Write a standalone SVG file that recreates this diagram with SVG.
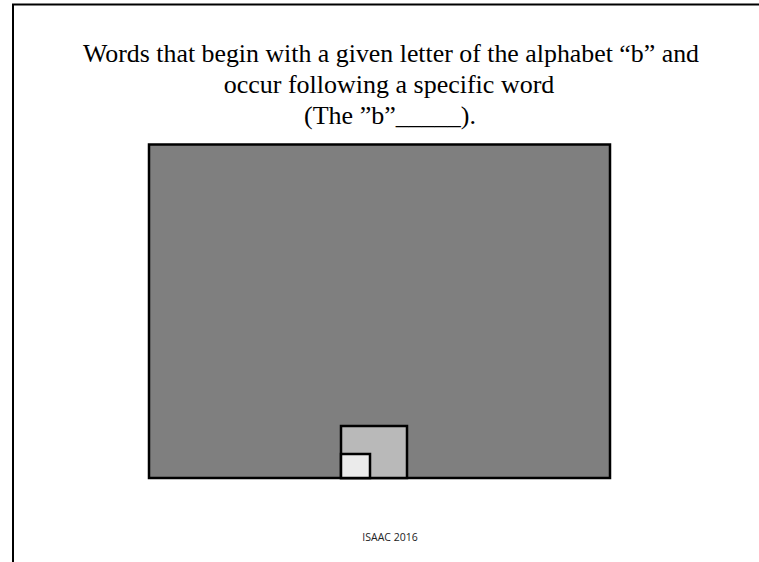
<svg xmlns="http://www.w3.org/2000/svg" width="759" height="562" viewBox="0 0 759 562">
<style>
.t{font-family:"Liberation Serif","Times New Roman",serif;font-size:26px;fill:#000;text-anchor:middle}
.f{font-family:"Open Sans","Liberation Sans",sans-serif;font-size:10.5px;fill:#222;text-anchor:middle}
.b{stroke:#000;stroke-width:2.5}
</style>
<rect x="0" y="0" width="759" height="562" fill="#fff"/>
<rect x="13" y="4.5" width="760" height="570" fill="none" stroke="#000" stroke-width="2"/>
<g id="title">
<text class="t" x="391" y="62" textLength="616" lengthAdjust="spacingAndGlyphs">Words that begin with a given letter of the alphabet “b” and</text>
<text class="t" x="389" y="93">occur following a specific word</text>
<text class="t" x="390" y="124">(The ”b”_____).</text>
</g>
<g id="outer"><rect class="b" x="149" y="144.5" width="461" height="333.5" fill="#7f7f7f"/></g>
<g id="middle"><rect class="b" x="341" y="426" width="66" height="52" fill="#b9b9b9"/></g>
<g id="inner"><rect class="b" x="341" y="454" width="29" height="24" fill="#ebebeb"/></g>
<g id="footer"><text class="f" x="390" y="541">ISAAC 2016</text></g>
</svg>
